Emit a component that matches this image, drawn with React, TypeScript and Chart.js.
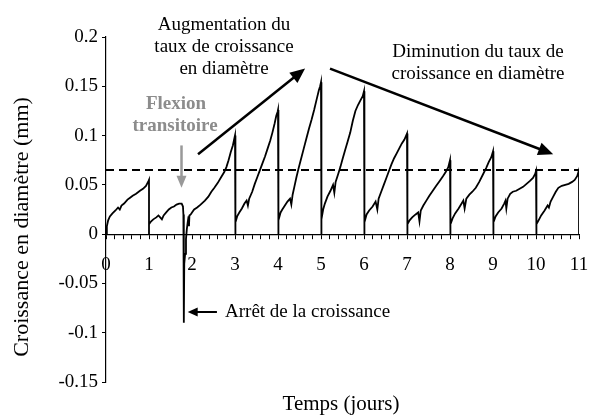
import React, { useEffect, useRef } from 'react';
import { Chart, registerables } from 'chart.js';

Chart.register(...registerables);

// ---- Data (time in days, diameter growth in mm) ----
const X_TICK_LABELS = ['0', '1', '2', '3', '4', '5', '6', '7', '8', '9', '10', '11'];
const Y_TICK_VALUES = [-0.15, -0.1, -0.05, 0, 0.05, 0.1, 0.15, 0.2];
const Y_TICK_LABELS = ['-0.15', '-0.1', '-0.05', '0', '0.05', '0.1', '0.15', '0.2'];
const MINOR_TICKS_PER_DAY = 5;
const REFERENCE_LEVEL = 0.065;

const day0: [number, number][] = [
  [0, 0], [0.02, 0.008], [0.05, 0.014], [0.09, 0.018], [0.15, 0.021], [0.22, 0.024],
  [0.28, 0.027], [0.32, 0.025], [0.36, 0.029], [0.42, 0.031], [0.5, 0.035], [0.56, 0.037],
  [0.62, 0.039], [0.7, 0.041], [0.79, 0.044], [0.86, 0.046], [0.93, 0.049], [0.99, 0.054],
  [1.0, 0.055], [1.0, 0],
];
const day1: [number, number][] = [
  [1.0, 0.01], [1.05, 0.013], [1.1, 0.015], [1.17, 0.017], [1.22, 0.019], [1.26, 0.017],
  [1.3, 0.015], [1.34, 0.019], [1.4, 0.022], [1.46, 0.025], [1.52, 0.027], [1.58, 0.028],
  [1.64, 0.03], [1.7, 0.031], [1.76, 0.031], [1.79, 0.028], [1.8, 0.02], [1.81, -0.09],
  [1.82, -0.03], [1.84, -0.02], [1.86, -0.005], [1.88, 0.005], [1.9, 0.012], [1.92, 0.018],
  [1.93, 0.008], [1.94, 0.019], [1.97, 0.02], [2.0, 0.022],
];
const day2: [number, number][] = [
  [2.05, 0.025], [2.12, 0.027], [2.2, 0.03], [2.3, 0.034], [2.38, 0.038], [2.45, 0.043],
  [2.52, 0.047], [2.6, 0.052], [2.68, 0.058], [2.75, 0.063], [2.8, 0.068], [2.85, 0.075],
  [2.9, 0.083], [2.95, 0.09], [2.99, 0.098], [3.0, 0.1], [3.0, 0],
];
const day3: [number, number][] = [
  [3.02, 0.012], [3.05, 0.018], [3.1, 0.022], [3.16, 0.026], [3.22, 0.031], [3.27, 0.034],
  [3.3, 0.029], [3.33, 0.036], [3.4, 0.043], [3.46, 0.051], [3.52, 0.058], [3.58, 0.065],
  [3.64, 0.072], [3.7, 0.079], [3.76, 0.087], [3.82, 0.095], [3.87, 0.103], [3.92, 0.112],
  [3.96, 0.12], [3.99, 0.124], [4.0, 0.126], [4.0, 0],
];
const day4: [number, number][] = [
  [4.02, 0.014], [4.06, 0.022], [4.1, 0.025], [4.16, 0.029], [4.22, 0.033], [4.28, 0.036],
  [4.31, 0.03], [4.34, 0.04], [4.38, 0.048], [4.43, 0.058], [4.48, 0.067], [4.54, 0.077],
  [4.6, 0.087], [4.66, 0.097], [4.72, 0.107], [4.78, 0.116], [4.84, 0.126], [4.9, 0.137],
  [4.95, 0.146], [4.98, 0.15], [5.0, 0.154], [5.0, 0],
];
const day5: [number, number][] = [
  [5.02, 0.015], [5.05, 0.025], [5.09, 0.031], [5.15, 0.038], [5.22, 0.044], [5.28, 0.05],
  [5.31, 0.042], [5.34, 0.053], [5.4, 0.061], [5.45, 0.068], [5.5, 0.076], [5.56, 0.085],
  [5.62, 0.094], [5.68, 0.103], [5.74, 0.115], [5.8, 0.125], [5.86, 0.131], [5.92, 0.136],
  [5.97, 0.14], [6.0, 0.145], [6.0, 0],
];
const day6: [number, number][] = [
  [6.02, 0.012], [6.06, 0.02], [6.12, 0.024], [6.2, 0.028], [6.27, 0.033], [6.31, 0.025],
  [6.34, 0.036], [6.4, 0.043], [6.46, 0.05], [6.52, 0.057], [6.58, 0.064], [6.64, 0.071],
  [6.7, 0.077], [6.76, 0.082], [6.82, 0.087], [6.88, 0.092], [6.94, 0.096], [6.98, 0.1],
  [7.0, 0.102], [7.0, 0],
];
const day7: [number, number][] = [
  [7.02, 0.01], [7.06, 0.014], [7.12, 0.017], [7.2, 0.02], [7.26, 0.022], [7.29, 0.013],
  [7.32, 0.024], [7.38, 0.029], [7.45, 0.034], [7.52, 0.039], [7.6, 0.044], [7.68, 0.049],
  [7.76, 0.054], [7.84, 0.059], [7.9, 0.063], [7.96, 0.068], [8.0, 0.075], [8.0, 0],
];
const day8: [number, number][] = [
  [8.02, 0.01], [8.06, 0.016], [8.12, 0.021], [8.2, 0.026], [8.27, 0.031], [8.31, 0.034],
  [8.34, 0.026], [8.38, 0.036], [8.45, 0.04], [8.52, 0.043], [8.6, 0.047], [8.68, 0.053],
  [8.76, 0.06], [8.84, 0.067], [8.9, 0.073], [8.96, 0.078], [9.0, 0.084], [9.0, 0],
];
const day9: [number, number][] = [
  [9.02, 0.012], [9.06, 0.018], [9.12, 0.022], [9.2, 0.026], [9.26, 0.031], [9.29, 0.034],
  [9.31, 0.026], [9.34, 0.036], [9.4, 0.041], [9.46, 0.043], [9.54, 0.044], [9.62, 0.046],
  [9.7, 0.048], [9.78, 0.051], [9.86, 0.054], [9.93, 0.057], [9.98, 0.061], [10.0, 0.064],
  [10.0, 0],
];
const day10: [number, number][] = [
  [10.02, 0.01], [10.06, 0.014], [10.12, 0.019], [10.2, 0.024], [10.27, 0.029], [10.3, 0.027],
  [10.34, 0.033], [10.4, 0.038], [10.46, 0.043], [10.52, 0.047], [10.6, 0.049], [10.68, 0.05],
  [10.76, 0.051], [10.84, 0.053], [10.9, 0.055], [10.96, 0.059], [11.0, 0.065], [11.0, 0],
];

const SERIF = '"Liberation Serif", "Times New Roman", serif';

function arrow(
  ctx: CanvasRenderingContext2D,
  x1: number, y1: number, x2: number, y2: number,
  color: string, width: number, headLen: number, headHalf: number,
) {
  const ang = Math.atan2(y2 - y1, x2 - x1);
  const bx = x2 - headLen * Math.cos(ang);
  const by = y2 - headLen * Math.sin(ang);
  ctx.save();
  ctx.strokeStyle = color;
  ctx.fillStyle = color;
  ctx.lineWidth = width;
  ctx.beginPath();
  ctx.moveTo(x1, y1);
  ctx.lineTo(bx + 1 * Math.cos(ang), by + 1 * Math.sin(ang));
  ctx.stroke();
  ctx.beginPath();
  ctx.moveTo(x2, y2);
  ctx.lineTo(bx + headHalf * Math.sin(ang), by - headHalf * Math.cos(ang));
  ctx.lineTo(bx - headHalf * Math.sin(ang), by + headHalf * Math.cos(ang));
  ctx.closePath();
  ctx.fill();
  ctx.restore();
}

const annotationPlugin = {
  id: 'annotations',
  afterDraw(chart: any) {
    const ctx: CanvasRenderingContext2D = chart.ctx;
    const xs = chart.scales.x;
    const ys = chart.scales.y;
    const px = (v: number) => xs.getPixelForValue(v);
    const py = (v: number) => ys.getPixelForValue(v);

    // arrows
    arrow(ctx, px(2.14), py(0.081), px(4.63), py(0.168), '#000', 2.5, 15, 6.5);
    arrow(ctx, px(5.21), py(0.168), px(10.4), py(0.081), '#000', 2.5, 15, 6.5);
    arrow(ctx, px(1.756), py(0.09), px(1.756), py(0.047), '#999', 2.5, 12, 5);
    arrow(ctx, px(2.58), py(-0.079), px(1.9), py(-0.079), '#000', 2, 10, 4.5);

    ctx.save();
    ctx.fillStyle = '#000';
    ctx.textAlign = 'center';
    ctx.textBaseline = 'middle';
    ctx.font = `19px ${SERIF}`;
    ctx.fillText('Augmentation du', 224, 25);
    ctx.fillText('taux de croissance', 224, 47);
    ctx.fillText('en diamètre', 224, 69);
    ctx.fillText('Diminution du taux de', 478, 52);
    ctx.fillText('croissance en diamètre', 478, 74);
    ctx.textAlign = 'left';
    ctx.fillText('Arrêt de la croissance', 225, 312);

    ctx.fillStyle = '#8c8c8c';
    ctx.textAlign = 'center';
    ctx.font = `bold 19px ${SERIF}`;
    ctx.fillText('Flexion', 176, 104);
    ctx.fillText('transitoire', 175, 126);

    // axis titles
    ctx.fillStyle = '#000';
    ctx.font = `21px ${SERIF}`;
    ctx.fillText('Temps (jours)', 341, 404);
    ctx.translate(22, 227);
    ctx.rotate(-Math.PI / 2);
    ctx.font = `22px ${SERIF}`;
    ctx.fillText('Croissance en diamètre (mm)', 0, 0);
    ctx.restore();
  },
};

export default function App() {
  const ref = useRef<HTMLCanvasElement | null>(null);

  useEffect(() => {
    if (!ref.current) return;
    const growth = [
      ...day0, ...day1, ...day2, ...day3, ...day4, ...day5,
      ...day6, ...day7, ...day8, ...day9, ...day10,
    ].map(([x, y]) => ({ x, y }));
    const lastDay = X_TICK_LABELS.length - 1;
    const refLine = [{ x: 0, y: REFERENCE_LEVEL }, { x: lastDay, y: REFERENCE_LEVEL }];

    const chart = new Chart(ref.current, {
      type: 'line',
      data: {
        datasets: [
          {
            label: 'Croissance',
            data: growth,
            borderColor: '#000',
            borderWidth: 1.8,
            pointRadius: 0,
            tension: 0,
            fill: false,
          },
          {
            label: 'Référence',
            data: refLine,
            borderColor: '#000',
            borderWidth: 2,
            borderDash: [8, 5],
            pointRadius: 0,
            tension: 0,
            fill: false,
          },
        ],
      },
      options: {
        responsive: false,
        animation: false,
        events: [],
        layout: { padding: { top: 37, right: 14, bottom: 34, left: 0 } },
        plugins: {
          legend: { display: false },
          tooltip: { enabled: false },
          title: { display: false },
        },
        scales: {
          x: {
            type: 'linear',
            min: 0,
            max: lastDay,
            position: { y: 0 } as any,
            afterFit: (s: any) => {
              s.height = 0;
              s.paddingLeft = 0;
              s.paddingRight = 0;
              s.paddingTop = 0;
              s.paddingBottom = 0;
            },
            afterBuildTicks: (s: any) => {
              const n = lastDay * MINOR_TICKS_PER_DAY;
              const t = [];
              for (let i = 0; i <= n; i++) t.push({ value: i / MINOR_TICKS_PER_DAY });
              s.ticks = t;
            },
            ticks: {
              autoSkip: false,
              maxRotation: 0,
              minRotation: 0,
              padding: 15,
              color: '#000',
              font: { family: SERIF, size: 19 },
              callback: (v: any) => {
                const r = Math.round(Number(v));
                return Math.abs(Number(v) - r) < 1e-6 ? X_TICK_LABELS[r] : '';
              },
            },
            grid: { drawOnChartArea: false, drawTicks: true, tickLength: 4, color: '#000', lineWidth: 1 },
            border: { display: true, color: '#000', width: 1.2 },
          },
          y: {
            type: 'linear',
            min: Y_TICK_VALUES[0],
            max: Y_TICK_VALUES[Y_TICK_VALUES.length - 1],
            position: 'left',
            afterFit: (s: any) => {
              s.width = 106;
              s.paddingTop = 0;
              s.paddingBottom = 0;
              s.paddingLeft = 0;
              s.paddingRight = 0;
            },
            afterBuildTicks: (s: any) => {
              s.ticks = Y_TICK_VALUES.map((v) => ({ value: v }));
            },
            ticks: {
              padding: 4,
              color: '#000',
              font: { family: SERIF, size: 19 },
              callback: (_v: any, i: number) => Y_TICK_LABELS[i],
            },
            grid: { drawOnChartArea: false, drawTicks: true, tickLength: 4, color: '#000', lineWidth: 1 },
            border: { display: true, color: '#000', width: 1.2 },
          },
        },
      },
      plugins: [annotationPlugin],
    });
    return () => chart.destroy();
  }, []);

  return (
    <div style={{ position: 'absolute', left: 0, top: 0, width: 593, height: 416, background: '#fff' }}>
      <canvas ref={ref} width={593} height={416} />
    </div>
  );
}
